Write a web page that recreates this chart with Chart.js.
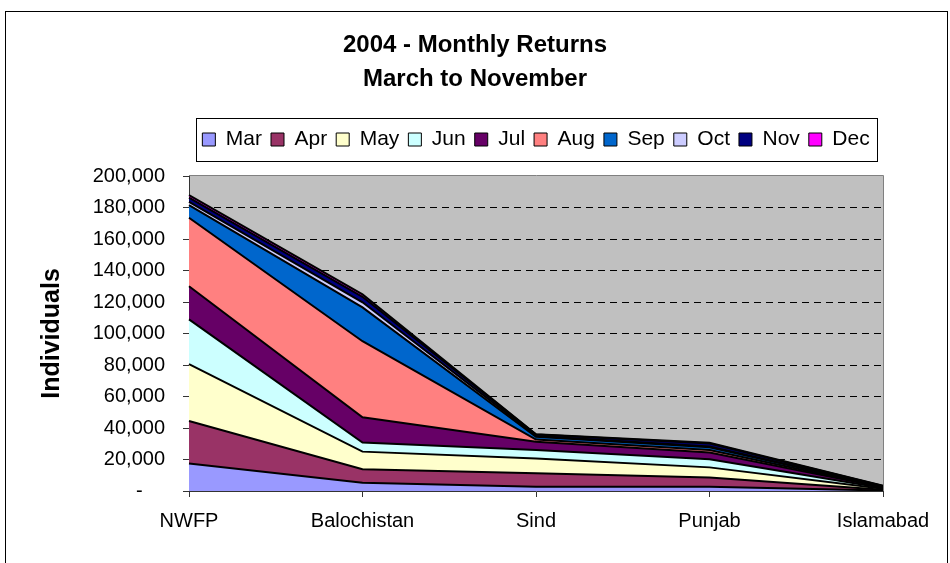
<!DOCTYPE html>
<html>
<head>
<meta charset="utf-8">
<script src="https://cdn.jsdelivr.net/npm/chart.js@4.4.1/dist/chart.umd.min.js"></script>
<style>
  html, body { margin: 0; padding: 0; background: #fff; }
</style>
</head>
<body>
<canvas id="chart" width="950" height="563"></canvas>
<script>
// Categories and per-month returns (individuals)
const provinces = ['NWFP', 'Balochistan', 'Sind', 'Punjab', 'Islamabad'];
const months = ['Mar', 'Apr', 'May', 'Jun', 'Jul', 'Aug', 'Sep', 'Oct', 'Nov', 'Dec'];

const mar = [17500, 5300, 2700, 2700, 300];
const apr = [27000, 8500, 8500, 5800, 500];
const may = [36000, 11200, 9500, 6500, 600];
const jun = [28500, 5800, 5300, 5100, 500];
const jul = [21000, 16000, 5200, 4400, 400];
const aug = [43500, 48300, 1500, 1500, 200];
const sep = [8000, 21500, 1700, 1700, 300];
const oct = [2000, 3200, 600, 600, 100];
const nov = [2800, 3500, 800, 1800, 300];
const dec = [1500, 1500, 200, 500, 100];

const yTicks = [0, 20000, 40000, 60000, 80000, 100000, 120000, 140000, 160000, 180000, 200000];

const seriesValues = [mar, apr, may, jun, jul, aug, sep, oct, nov, dec];
const colors = ['#9999ff', '#993366', '#ffffcc', '#ccffff', '#660066',
                '#ff8080', '#0066cc', '#ccccff', '#000080', '#ff00ff'];

const FONT = "'Liberation Sans', Arial, sans-serif";
Chart.defaults.font.family = FONT;
Chart.defaults.color = '#000';

// Gray plot area, plot border, legend frame and outer chart frame
const excelFrame = {
  id: 'excelFrame',
  beforeDraw(chart) {
    const { ctx, chartArea: { left, top, width, height } } = chart;
    ctx.save();
    ctx.fillStyle = '#fff';
    ctx.fillRect(0, 0, chart.width, chart.height);
    ctx.fillStyle = '#c0c0c0';
    ctx.fillRect(left, top, width, height);
    ctx.restore();
  },
  afterDraw(chart) {
    const { ctx, chartArea: { left, top, right, bottom } } = chart;
    ctx.save();
    ctx.strokeStyle = '#808080';
    ctx.lineWidth = 1;
    ctx.beginPath();
    ctx.moveTo(left, top - 0.5);
    ctx.lineTo(right + 0.5, top - 0.5);
    ctx.lineTo(right + 0.5, bottom);
    ctx.stroke();

    const boxes = chart.legend.legendHitBoxes;
    const l = Math.min(...boxes.map(b => b.left)) - 6;
    const r = Math.max(...boxes.map(b => b.left + b.width)) + 8;
    const cy = boxes[0].top + boxes[0].height / 2;
    ctx.strokeStyle = '#000';
    ctx.strokeRect(Math.round(l) + 0.5, Math.round(cy - 22) + 0.5, Math.round(r - l), 43);

    ctx.strokeRect(5.5, 11.5, 942, 600);
    ctx.restore();
  }
};

new Chart(document.getElementById('chart'), {
  type: 'line',
  data: {
    labels: provinces,
    datasets: months.map((m, i) => ({
      label: m,
      data: seriesValues[i],
      backgroundColor: colors[i],
      borderColor: '#000',
      borderWidth: 2,
      fill: i === 0 ? 'origin' : '-1',
      pointRadius: 0,
      tension: 0,
    })),
  },
  options: {
    responsive: false,
    animation: false,
    layout: { padding: { left: 67, right: 67, top: 0, bottom: 0 } },
    plugins: {
      title: {
        display: true,
        text: ['2004 - Monthly Returns', 'March to November'],
        font: { size: 24, weight: 'bold', lineHeight: '34px' },
        padding: { top: 28, bottom: 24 },
      },
      legend: {
        position: 'top',
        fullSize: false,
        labels: {
          font: { size: 21 },
          boxWidth: 13,
          boxHeight: 13,
          padding: 9,
          generateLabels: (chart) => chart.data.datasets.map((ds, i) => ({
            text: ds.label,
            fillStyle: ds.backgroundColor,
            strokeStyle: '#000',
            lineWidth: 1,
            hidden: false,
            datasetIndex: i,
            fontColor: '#000',
          })),
        },
      },
      // empty spacer between the legend and the plot
      subtitle: {
        display: true,
        text: '',
        weight: 500,
        font: { size: 16, lineHeight: 1 },
        padding: 0,
      },
      tooltip: { enabled: false },
    },
    scales: {
      x: {
        offset: false,
        afterFit: (scale) => { scale.height = 72; },
        grid: { drawOnChartArea: false, tickLength: 6, tickColor: '#333' },
        border: { color: '#333', width: 1 },
        ticks: { font: { size: 20 }, padding: 12, maxRotation: 0, autoSkip: false, color: '#000' },
      },
      y: {
        stacked: true,
        min: yTicks[0],
        max: yTicks[yTicks.length - 1],
        afterFit: (scale) => { scale.width = 122; },
        afterBuildTicks: (scale) => { scale.ticks = yTicks.map(v => ({ value: v })); },
        title: {
          display: true,
          text: 'Individuals',
          font: { size: 25, weight: 'bold' },
          padding: { top: -30, bottom: 0 },
        },
        grid: {
          color: (c) => (c.tick && (c.tick.value === 0 || c.tick.value === 200000)) ? 'rgba(0,0,0,0)' : '#000',
          lineWidth: 1,
          tickLength: 6,
          tickColor: '#333',
        },
        border: { color: '#333', width: 1, dash: [7, 5] },
        ticks: {
          font: { size: 20 },
          padding: 18,
          color: '#000',
          callback: (v) => v === 0 ? '-    ' : v.toLocaleString('en-US'),
        },
      },
    },
  },
  plugins: [excelFrame],
});
</script>
</body>
</html>
